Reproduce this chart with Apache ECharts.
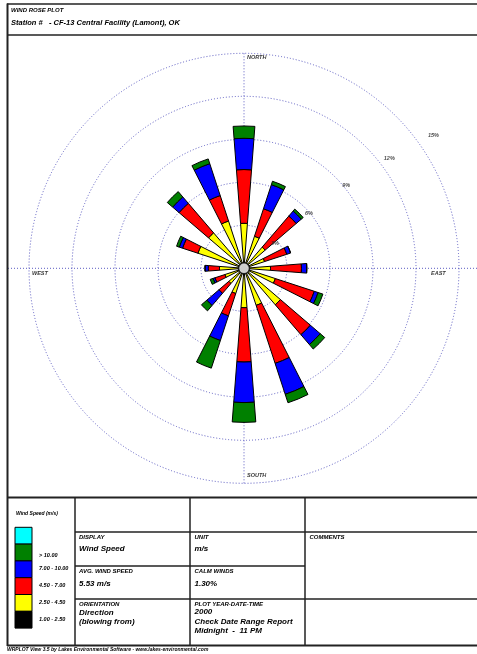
<!DOCTYPE html>
<html>
<head>
<meta charset="utf-8">
<title>Wind Rose Plot</title>
<script src="https://cdn.jsdelivr.net/npm/echarts@6/dist/echarts.min.js"></script>
<style>
  html, body { margin: 0; padding: 0; background: #fff; }
  #chart { width: 477px; height: 654px; }
</style>
</head>
<body>
<div id="chart"></div>
<script>
// directions (blowing from), clockwise from north
const directions = ["N", "NNE", "NE", "ENE", "E", "ESE", "SE", "SSE",
                    "S", "SSW", "SW", "WSW", "W", "WNW", "NW", "NNW"];

// frequency (%) per speed class and direction
const calmBand   = [0.4, 0.4, 0.4, 0.4, 0.4, 0.4, 0.4, 0.4, 0.4, 0.4, 0.4, 0.4, 0.4, 0.4, 0.4, 0.4];      // 1.00 - 2.50
const lightBand  = [2.74, 1.95, 1.55, 1.11, 1.45, 1.90, 2.95, 2.32, 2.35, 1.45, 1.00, 1.00, 1.31, 2.98, 2.86, 3.07]; // 2.50 - 4.50
const modBand    = [3.75, 2.02, 2.85, 1.63, 2.16, 2.86, 2.75, 4.26, 3.79, 1.64, 0.90, 0.73, 0.78, 1.13, 2.71, 1.87]; // 4.50 - 7.00
const freshBand  = [2.18, 1.77, 0.47, 0.28, 0.37, 0.28, 0.91, 2.27, 2.83, 1.81, 1.12, 0.14, 0.23, 0.24, 0.59, 2.34]; // 7.00 - 10.00
const strongBand = [0.86, 0.25, 0.17, 0, 0, 0.35, 0.41, 0.62, 1.38, 2.03, 0.49, 0.21, 0, 0.20, 0.49, 0.35];          // > 10.00

const speedClasses = ["1.00 - 2.50", "2.50 - 4.50", "4.50 - 7.00", "7.00 - 10.00", "> 10.00"];
const ringTicks = [3, 6, 9, 12, 15];
const ringLabels = ["3%", "6%", "9%", "12%", "15%"];

const stationName = "- CF-13 Central Facility (Lamont), OK";
const avgSpeed = "5.53 m/s";
const calmWinds = "1.30%";

// layout
const CX = 244, CY = 268.3, R = 215;
const ringLabelAt = [[2.78, 38.9], [5.94, 40.2], [9.18, 39.1], [12.69, 37], [16.13, 35]];
const FONT = '"Liberation Sans", Arial, sans-serif';
const DOT = "#5c5cc2";

const bandColors = ["#000000", "#ffff00", "#ff0000", "#0000ff", "#008000"];
const bands = [calmBand, lightBand, modBand, freshBand, strongBand];

function txt(x, y, s, size) {
  return {
    type: "text", x: x, y: y, z: 20,
    style: {
      text: s, fill: "#000", fontSize: size, fontWeight: "bold",
      fontStyle: "italic", fontFamily: FONT, verticalAlign: "middle"
    }
  };
}

function line(x1, y1, x2, y2, w, dash, color) {
  return {
    type: "line", z: 1,
    shape: { x1: x1, y1: y1, x2: x2, y2: y2 },
    style: { stroke: color || "#222", lineWidth: w, lineDash: dash || null }
  };
}

const graphics = [
  // compass cross
  line(8, CY, 477, CY, 1, [1, 2], DOT),
  line(CX, CY - R, CX, CY + R, 1, [1, 2], DOT),
  // frame
  line(7.5, 3.5, 7.5, 646, 2),
  line(7, 4, 477, 4, 1.5),
  line(7, 35, 477, 35, 1.5),
  line(7, 497.5, 477, 497.5, 2),
  line(7, 645.5, 477, 645.5, 2),
  line(75, 497, 75, 646, 1.5),
  line(190, 497, 190, 646, 1.5),
  line(305, 497, 305, 646, 1.5),
  line(75, 532, 477, 532, 1.5),
  line(75, 566, 305, 566, 1.5),
  line(75, 599, 477, 599, 1.5),
  // header
  txt(11, 10, "WIND ROSE PLOT", 6),
  txt(11, 23, "Station #", 7.5),
  txt(49, 23, stationName, 7.5),
  // table
  txt(16, 514, "Wind Speed (m/s)", 5),
  txt(79, 537.3, "DISPLAY", 6),
  txt(79, 548.5, "Wind Speed", 8),
  txt(194.5, 537.3, "UNIT", 6),
  txt(194.5, 548.5, "m/s", 8),
  txt(309.5, 537.3, "COMMENTS", 6),
  txt(79, 571, "AVG. WIND SPEED", 6),
  txt(79, 583.5, avgSpeed, 8),
  txt(194.5, 571, "CALM WINDS", 6),
  txt(194.5, 583.5, calmWinds, 8),
  txt(79, 604, "ORIENTATION", 6),
  txt(79, 613, "Direction", 8),
  txt(79, 621.7, "(blowing from)", 8),
  txt(194.5, 604, "PLOT YEAR-DATE-TIME", 6),
  txt(194.5, 612, "2000", 8),
  txt(194.5, 621.7, "Check Date Range Report", 8),
  txt(194.5, 631, "Midnight  -  11 PM", 8),
  txt(7, 650, "WRPLOT View 3.5 by Lakes Environmental Software - www.lakes-environmental.com", 5)
];

// legend boxes: cyan on top, then green .. black
const legendColors = ["#00ffff"].concat(bandColors.slice().reverse());
legendColors.forEach(function (c, i) {
  graphics.push({
    type: "rect", z: 20,
    shape: { x: 15, y: 527.3 + i * 16.8, width: 17, height: 16.8 },
    style: { fill: c, stroke: "#000", lineWidth: 1 }
  });
});
const legendLabelY = [555.7, 568.3, 585, 602.3, 619];
speedClasses.slice().reverse().forEach(function (s, i) {
  graphics.push(txt(39, legendLabelY[i], s, 5.5));
});

const barSeries = bands.map(function (vals, i) {
  return {
    name: speedClasses[i],
    type: "bar",
    coordinateSystem: "polar",
    polarIndex: 0,
    stack: "rose",
    barWidth: "39%",
    z: 3,
    itemStyle: { color: bandColors[i], borderColor: "#000", borderWidth: 1 },
    data: vals
  };
});

const labelStyle = {
  show: true, color: "#222", fontSize: 5.5, fontWeight: "bold",
  fontStyle: "italic", fontFamily: FONT
};

const ringLabelSeries = {
  type: "scatter",
  coordinateSystem: "polar",
  polarIndex: 1,
  symbolSize: 0,
  silent: true,
  z: 4,
  itemStyle: { color: "transparent" },
  label: Object.assign({}, labelStyle, {
    position: "inside",
    formatter: function (p) { return p.data.name; }
  }),
  data: ringTicks.map(function (t, i) {
    return { name: ringLabels[i], value: ringLabelAt[i] };
  })
};

const compassSeries = {
  type: "scatter",
  coordinateSystem: "polar",
  polarIndex: 1,
  symbolSize: 0,
  silent: true,
  z: 4,
  itemStyle: { color: "transparent" },
  label: Object.assign({}, labelStyle, {
    color: "#000",
    formatter: function (p) { return p.data.name; }
  }),
  data: [
    { name: "NORTH", value: [14.9, 90], label: { position: [3, 0] } },
    { name: "SOUTH", value: [14.24, 270], label: { position: [3, 0] } },
    { name: "WEST", value: [14.79, 180], label: { position: [0, 2] } },
    { name: "EAST", value: [13.05, 0], label: { position: [0, 2] } }
  ]
};

const calmSeries = {
  type: "scatter",
  coordinateSystem: "polar",
  polarIndex: 1,
  symbol: "circle",
  symbolSize: 11,
  silent: true,
  z: 6,
  itemStyle: { color: "#fff", borderColor: "#000", borderWidth: 1.5 },
  data: [[0, 0]]
};

const chart = echarts.init(document.getElementById("chart"), null, { renderer: "canvas" });
chart.setOption({
  animation: false,
  backgroundColor: "#fff",
  polar: [
    { center: [CX, CY], radius: R },
    { center: [CX, CY], radius: R * 20 / 15 }
  ],
  angleAxis: [
    {
      polarIndex: 0, type: "category", data: directions,
      startAngle: 90 + 360 / 32, clockwise: true, boundaryGap: true,
      axisLine: { show: false }, axisTick: { show: false },
      axisLabel: { show: false }, splitLine: { show: false }
    },
    {
      polarIndex: 1, type: "value", min: 0, max: 360,
      startAngle: 0, clockwise: false, show: false
    }
  ],
  radiusAxis: [
    {
      polarIndex: 0, type: "value", min: 0, max: 15, interval: 3,
      axisLine: { show: false }, axisTick: { show: false },
      axisLabel: { show: false },
      splitLine: { show: true, lineStyle: { color: DOT, width: 1, type: [1, 2] } }
    },
    { polarIndex: 1, type: "value", min: 0, max: 20, show: false }
  ],
  series: barSeries.concat([ringLabelSeries, compassSeries, calmSeries]),
  graphic: graphics
});
</script>
</body>
</html>
